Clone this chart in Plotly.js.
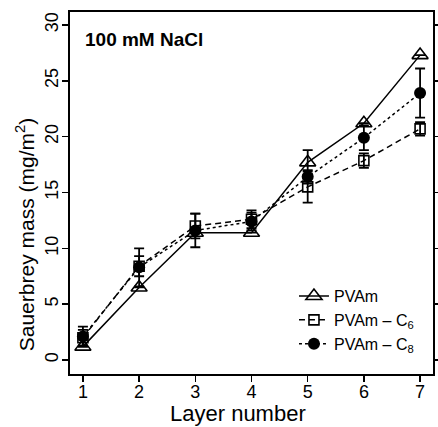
<!DOCTYPE html>
<html>
<head>
<meta charset="utf-8">
<script src="https://cdn.plot.ly/plotly-3.0.1.min.js"></script>
<style>html,body{margin:0;padding:0;background:#fff;}#chart{width:438px;height:427px;}</style>
</head>
<body>
<div id="chart"></div>
<script>
const layers = [1, 2, 3, 4, 5, 6, 7];
const pvam = [1.2, 6.5, 11.4, 11.4, 17.7, 21.2, 27.3];
const pvamErr = [null, null, null, null, 1.1, null, null];
const pvamC6 = [2.0, 8.4, 12.0, 12.6, 15.5, 17.85, 20.7];
const pvamC6Err = [0.7, 0.9, 1.1, 0.8, 1.4, 0.65, 0.6];
const pvamC8 = [2.1, 8.3, 11.6, 12.4, 16.4, 19.9, 23.9];
const pvamC8Err = [0.9, 1.7, 1.5, 0.8, 0.6, 1.1, 2.2];
const names = ['PVAm', 'PVAm \u2013 C<sub>6</sub>', 'PVAm \u2013 C<sub>8</sub>'];
const xTitle = 'Layer number';
const yTitle = 'Sauerbrey mass (mg/m<sup>2</sup>)';
const panelLabel = '<b>100 mM NaCl</b>';

const errStyle = (arr) => ({type: 'data', array: arr, visible: true, color: '#000', thickness: 1.8, width: 5});

const traces = [
  {x: layers, y: pvam, name: names[0], mode: 'lines+markers', type: 'scatter',
   line: {color: '#000', width: 1.5, dash: 'solid'},
   marker: {symbol: 'triangle-up-open', size: 14, color: '#000', line: {width: 1.6, color: '#000'}},
   error_y: errStyle(pvamErr)},
  {x: layers, y: pvamC6, name: names[1], mode: 'lines+markers', type: 'scatter',
   line: {color: '#000', width: 1.5, dash: '6px,4px'},
   marker: {symbol: 'square-open', size: 10, color: '#000', line: {width: 1.6, color: '#000'}},
   error_y: errStyle(pvamC6Err)},
  {x: layers, y: pvamC8, name: names[2], mode: 'lines+markers', type: 'scatter',
   line: {color: '#000', width: 1.5, dash: 'dot'},
   marker: {symbol: 'circle', size: 12, color: '#000'},
   error_y: errStyle(pvamC8Err)}
];

const font = {family: 'Liberation Sans, Arial, sans-serif', color: '#000'};

const layout = {
  width: 438, height: 427,
  margin: {l: 70, r: 5, t: 12, b: 53},
  paper_bgcolor: '#fff', plot_bgcolor: '#fff',
  font: Object.assign({size: 18}, font),
  showlegend: true,
  legend: {x: 0.617, y: 0.262, xanchor: 'left', yanchor: 'top', bgcolor: 'rgba(0,0,0,0)',
           font: Object.assign({size: 16}, font), tracegroupgap: 0, itemwidth: 30},
  xaxis: {
    range: [0.77, 7.23], tickvals: layers, ticktext: layers.map(String),
    showgrid: false, zeroline: false, showline: true, linecolor: '#000', linewidth: 2,
    mirror: true, ticks: 'outside', ticklen: 6, tickwidth: 1.5, tickcolor: '#000',
    ticklabelstandoff: -6,
    tickfont: Object.assign({size: 18}, font)
  },
  yaxis: {
    range: [-1.25, 31.16], tickvals: [0, 5, 10, 15, 20, 25, 30],
    showgrid: false, zeroline: false, showline: true, linecolor: '#000', linewidth: 2,
    mirror: 'ticks', ticks: 'outside', ticklen: 6, tickwidth: 1.5, tickcolor: '#000',
    tickangle: -90, ticklabelstandoff: -3,
    tickfont: Object.assign({size: 18}, font)
  },
  annotations: [
    {xref: 'paper', yref: 'paper', x: 0.035, y: 0.923, xanchor: 'left', yanchor: 'middle',
     text: panelLabel, showarrow: false, font: Object.assign({size: 19}, font)},
    {xref: 'paper', yref: 'paper', x: 0.464, y: -0.11, xanchor: 'center', yanchor: 'middle',
     text: xTitle, showarrow: false, font: Object.assign({size: 22}, font)},
    {xref: 'paper', yref: 'paper', x: -0.124, y: 0.386, xanchor: 'center', yanchor: 'middle',
     textangle: -90, text: yTitle, showarrow: false, font: Object.assign({size: 21}, font)}
  ]
};

Plotly.newPlot('chart', traces, layout, {displayModeBar: false, staticPlot: true});
</script>
</body>
</html>
